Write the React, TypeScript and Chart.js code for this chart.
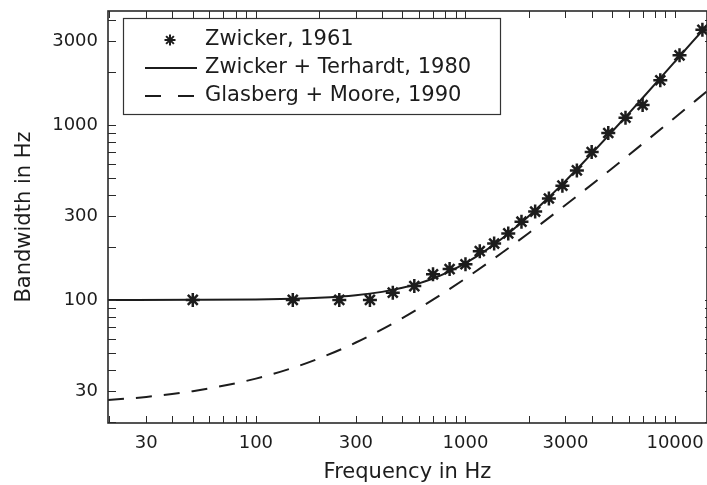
import React, { useEffect, useRef } from 'react';
import { Chart, registerables } from 'chart.js';

Chart.register(...registerables);

// Zwicker (1961) critical band table
const zwickerFreq = [50, 150, 250, 350, 450, 570, 700, 840, 1000, 1170, 1370, 1600, 1850, 2150, 2500, 2900, 3400, 4000, 4800, 5800, 7000, 8500, 10500, 13500];
const zwickerBW = [100, 100, 100, 100, 110, 120, 140, 150, 160, 190, 210, 240, 280, 320, 380, 450, 550, 700, 900, 1100, 1300, 1800, 2500, 3500];

// Zwicker + Terhardt (1980) curve
const ztFreq = [19.7, 50, 100, 150, 200, 300, 400, 500, 600, 700, 850, 1000, 1250, 1500, 1750, 2000, 2500, 3000, 3500, 4000, 5000, 6000, 7000, 8500, 10000, 12000, 14200];
const ztBW = [100.0, 100.2, 100.7, 101.6, 102.9, 106.4, 111.2, 117.3, 124.4, 132.5, 146.5, 162.2, 191.9, 225.2, 261.6, 300.8, 386, 479.1, 579.2, 685.5, 914, 1161.6, 1426, 1850.7, 2306, 2953.8, 3700];

// Glasberg + Moore (1990) curve
const gmFreq = [19.7, 30, 50, 100, 150, 200, 300, 500, 700, 1000, 1500, 2000, 3000, 5000, 7000, 10000, 14200];
const gmBW = [26.8, 27.9, 30.1, 35.5, 40.9, 46.3, 57.1, 78.7, 100.3, 132.6, 186.6, 240.6, 348.5, 564.4, 780.3, 1104, 1557];

const xTickLabels = [30, 100, 300, 1000, 3000, 10000];
const yTickLabels = [30, 100, 300, 1000, 3000];
const xTickMarks = [20, 30, 40, 50, 60, 70, 80, 90, 100, 200, 300, 400, 500, 600, 700, 800, 900, 1000, 2000, 3000, 4000, 5000, 6000, 7000, 8000, 9000, 10000];
const yTickMarks = [20, 30, 40, 50, 60, 70, 80, 90, 100, 200, 300, 400, 500, 600, 700, 800, 900, 1000, 2000, 3000, 4000];

const seriesLabels = ['Zwicker, 1961', 'Zwicker + Terhardt, 1980', 'Glasberg + Moore, 1990'];
const xTitle = 'Frequency in Hz';
const yTitle = 'Bandwidth in Hz';

const INK = '#1c1c1c';
const FONT = "'DejaVu Sans', sans-serif";

const zeroPadding = (s: any) => {
  s.paddingLeft = 0;
  s.paddingRight = 0;
  s.paddingTop = 0;
  s.paddingBottom = 0;
};

const framePlugin = {
  id: 'frameAndLegend',
  afterDraw(chart: any) {
    const { ctx, chartArea, scales } = chart;
    const { left, right, top, bottom } = chartArea;
    const xs = scales.x;
    const ys = scales.y;
    ctx.save();
    ctx.strokeStyle = '#2a2a2a';
    ctx.lineWidth = 1;
    const seg = (x1: number, y1: number, x2: number, y2: number) => {
      ctx.beginPath();
      ctx.moveTo(x1, y1);
      ctx.lineTo(x2, y2);
      ctx.stroke();
    };
    xTickMarks.forEach((v) => {
      const px = Math.round(xs.getPixelForValue(v)) + 0.5;
      if (px < left || px > right) return;
      seg(px, bottom, px, bottom - 7);
      seg(px, top, px, top + 7);
    });
    yTickMarks.forEach((v) => {
      const py = Math.round(ys.getPixelForValue(v)) + 0.5;
      if (py < top || py > bottom) return;
      seg(left, py, left + 8, py);
      seg(right, py, right - 2, py);
    });
    ctx.lineWidth = 1.6;
    ctx.strokeRect(left, top, right - left, bottom - top);

    // legend
    const bx = 123, by = 18, bw = 377, bh = 96;
    ctx.fillStyle = '#ffffff';
    ctx.fillRect(bx, by, bw, bh);
    ctx.lineWidth = 1.2;
    ctx.strokeStyle = '#333';
    ctx.strokeRect(bx + 0.5, by + 0.5, bw, bh);
    const rows = [40, 68, 96];
    const ds = chart.data.datasets;
    ctx.strokeStyle = INK;
    ctx.lineWidth = 2;
    const sx = 170, sy = rows[0], r = 5.5;
    for (let k = 0; k < 4; k++) {
      const a = (k * Math.PI) / 4;
      seg(sx - r * Math.cos(a), sy - r * Math.sin(a), sx + r * Math.cos(a), sy + r * Math.sin(a));
    }
    ctx.lineWidth = 2;
    seg(145, rows[1], 197, rows[1]);
    ctx.setLineDash([16, 17]);
    seg(145, rows[2], 197, rows[2]);
    ctx.setLineDash([]);
    ctx.fillStyle = INK;
    ctx.font = `21px ${FONT}`;
    ctx.textBaseline = 'middle';
    ctx.textAlign = 'left';
    ds.forEach((d: any, i: number) => ctx.fillText(d.label, 205, rows[i]));
    ctx.restore();
  },
};

export default function App() {
  const ref = useRef<HTMLCanvasElement | null>(null);
  useEffect(() => {
    document.body.style.margin = '0';
    if (!ref.current) return;
    const chart = new Chart(ref.current, {
      type: 'scatter',
      data: {
        datasets: [
          {
            label: seriesLabels[0],
            data: zwickerFreq.map((f, i) => ({ x: f, y: zwickerBW[i] })),
            showLine: false,
            pointStyle: 'star',
            pointRadius: 7,
            pointBorderWidth: 2.5,
            borderColor: INK,
            backgroundColor: INK,
            clip: false,
          },
          {
            label: seriesLabels[1],
            data: ztFreq.map((f, i) => ({ x: f, y: ztBW[i] })),
            showLine: true,
            pointRadius: 0,
            borderColor: INK,
            borderWidth: 2,
            cubicInterpolationMode: 'monotone',
          },
          {
            label: seriesLabels[2],
            data: gmFreq.map((f, i) => ({ x: f, y: gmBW[i] })),
            showLine: true,
            pointRadius: 0,
            borderColor: INK,
            borderWidth: 2,
            borderDash: [16, 12],
            cubicInterpolationMode: 'monotone',
          },
        ],
      } as any,
      options: {
        responsive: false,
        animation: false,
        devicePixelRatio: 1,
        layout: { autoPadding: false, padding: { top: 11, right: 0, left: 0, bottom: 0 } },
        plugins: { legend: { display: false }, tooltip: { enabled: false } },
        scales: {
          x: {
            type: 'logarithmic',
            min: 19.7,
            max: 14200,
            grid: { display: false, drawTicks: false },
            border: { display: false },
            afterBuildTicks: (s: any) => {
              s.ticks = xTickLabels.map((v) => ({ value: v }));
            },
            afterFit: (s: any) => {
              s.height = 62;
              zeroPadding(s);
            },
            ticks: {
              autoSkip: false,
              maxRotation: 0,
              padding: 10,
              color: INK,
              font: { family: FONT, size: 18 },
              callback: (v: any) => String(v),
            },
            title: {
              display: true,
              text: xTitle,
              color: INK,
              font: { family: FONT, size: 21 },
              padding: { top: 0, bottom: 0 },
            },
          },
          y: {
            type: 'logarithmic',
            min: 19.8,
            max: 4480,
            grid: { display: false, drawTicks: false },
            border: { display: false },
            afterBuildTicks: (s: any) => {
              s.ticks = yTickLabels.map((v) => ({ value: v }));
            },
            afterFit: (s: any) => {
              s.width = 108;
              zeroPadding(s);
            },
            ticks: {
              autoSkip: false,
              padding: 10,
              color: INK,
              font: { family: FONT, size: 18 },
              callback: (v: any) => String(v),
            },
            title: {
              display: true,
              text: yTitle,
              color: INK,
              font: { family: FONT, size: 21 },
              padding: { top: 12, bottom: 0 },
            },
          },
        },
      } as any,
      plugins: [framePlugin],
    });
    return () => chart.destroy();
  }, []);
  return (
    <div style={{ width: 707, height: 485 }}>
      <canvas ref={ref} width={707} height={485} style={{ display: 'block' }} />
    </div>
  );
}
